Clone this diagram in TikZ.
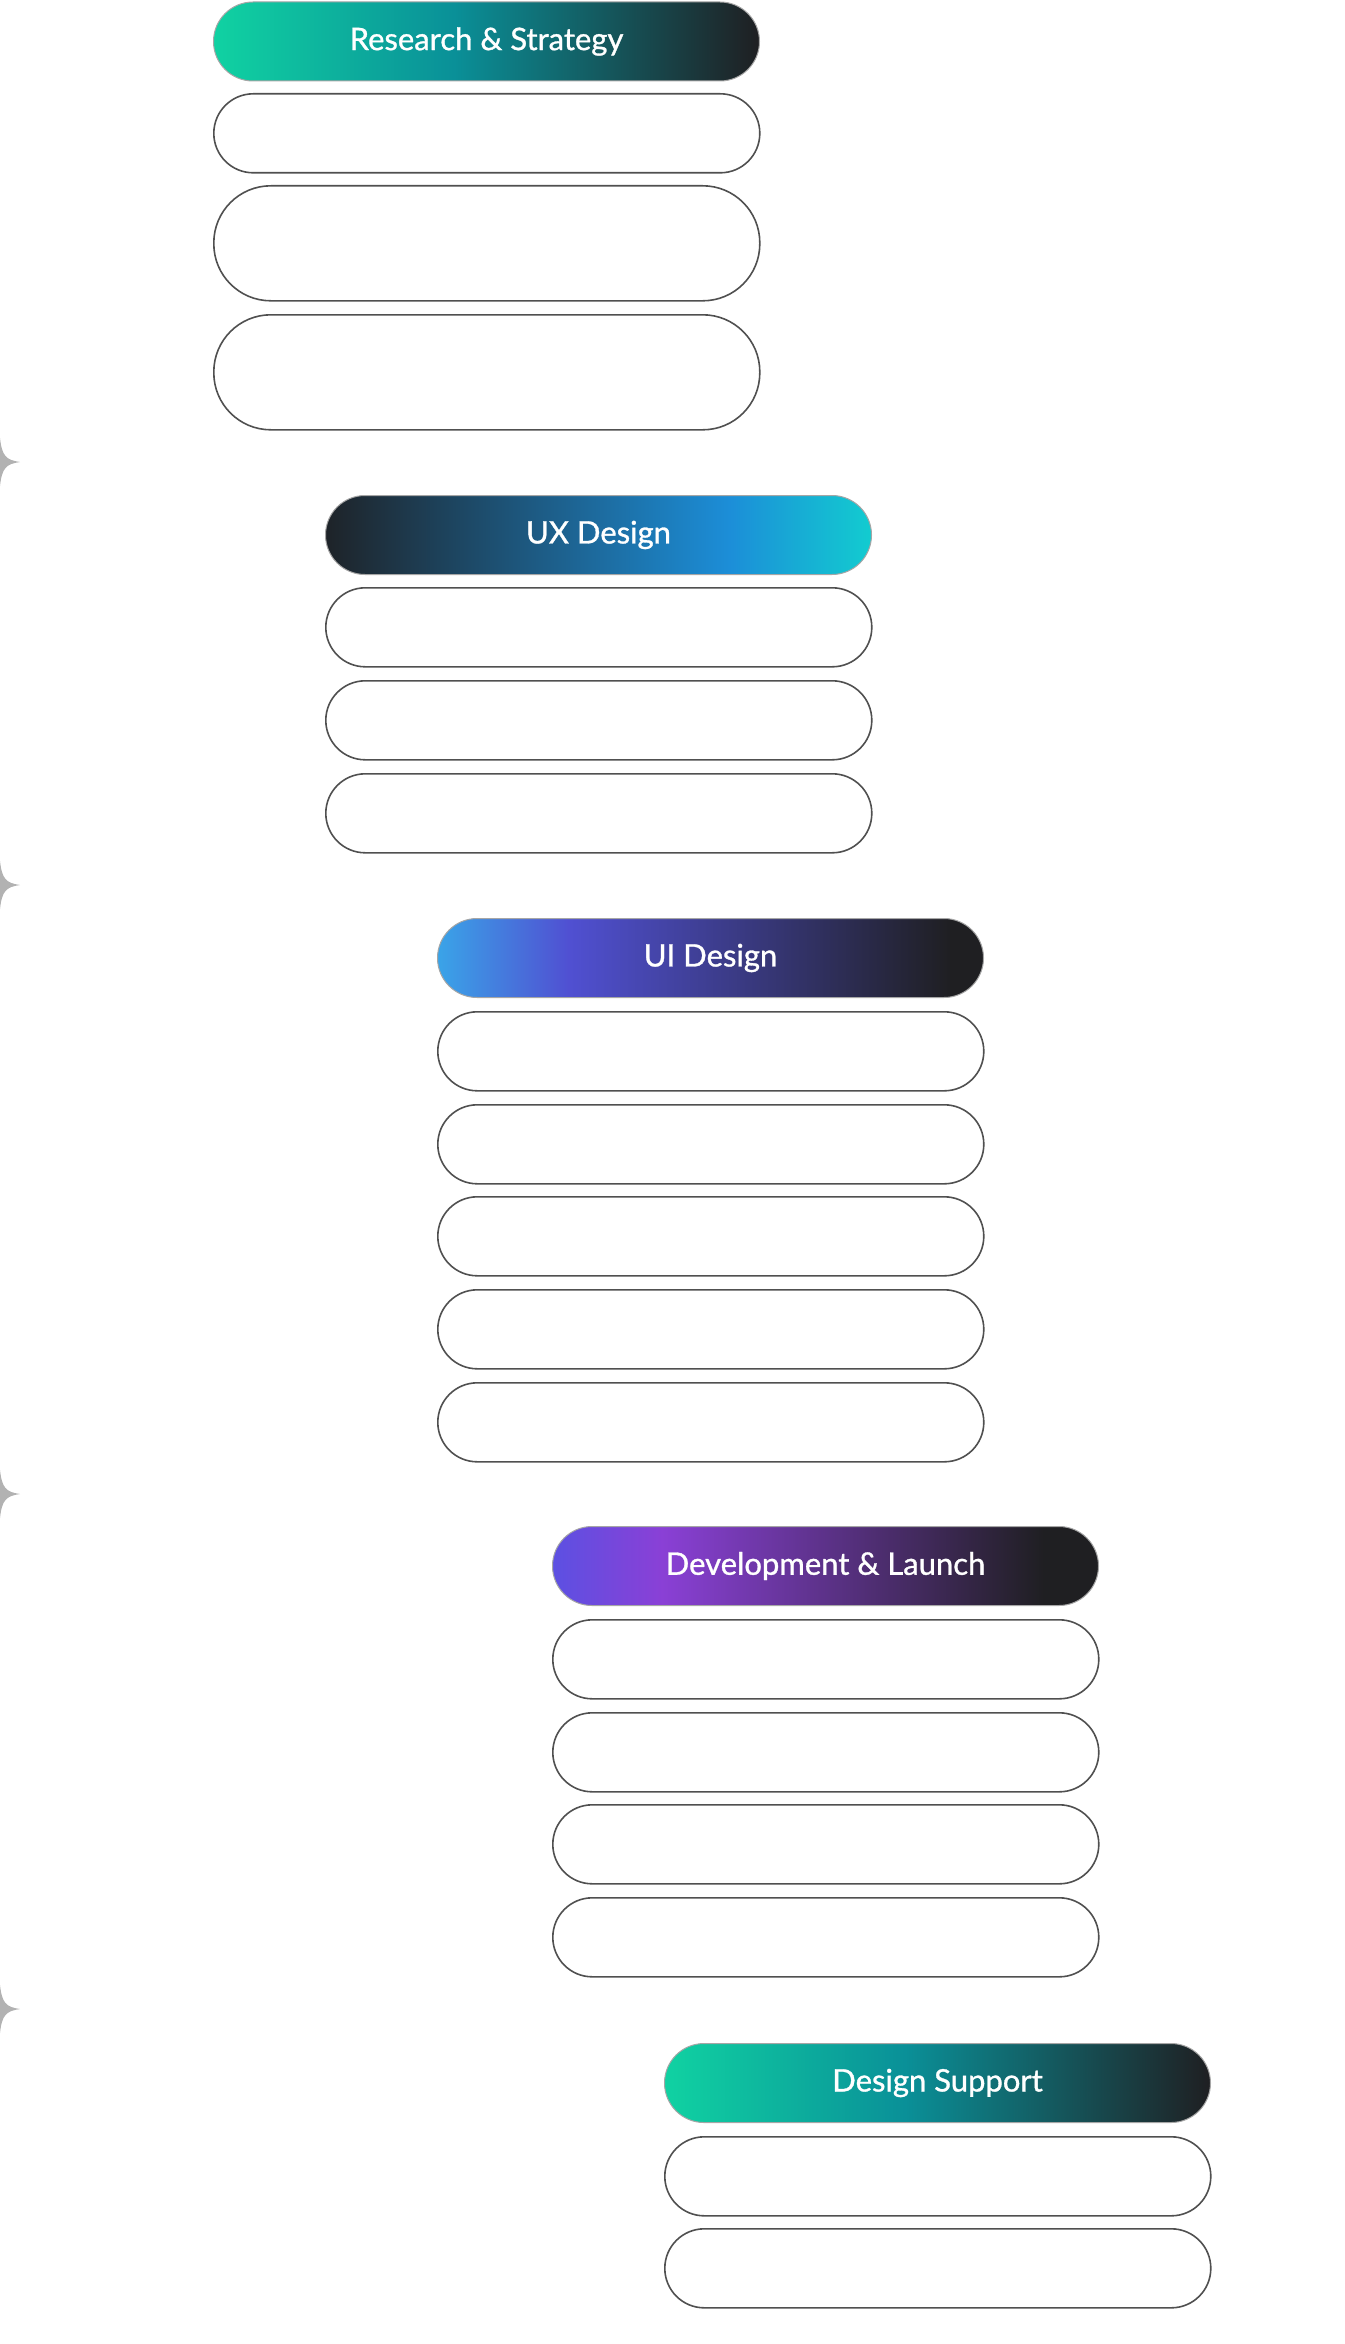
\documentclass[tikz,border=0pt]{standalone}
\usepackage{fontspec}
\setmainfont{Lato}
\newfontfamily\hfont{Lato}[FakeBold=1]
\usetikzlibrary{calc}
\definecolor{c1}{HTML}{10D2A2}
\definecolor{c2}{HTML}{0A9098}
\definecolor{c3}{HTML}{1F1F22}
\definecolor{u1}{HTML}{1E2328}
\definecolor{u2}{HTML}{1C8ED8}
\definecolor{u3}{HTML}{12CCD0}
\definecolor{i1}{HTML}{3AA4E8}
\definecolor{i2}{HTML}{5050D2}
\definecolor{d1}{HTML}{5C50E2}
\definecolor{d2}{HTML}{8A40D6}
\definecolor{bord}{HTML}{505050}
\pgfdeclarehorizontalshading{gteal}{100bp}{color(0bp)=(c1); color(25bp)=(c1); color(47bp)=(c2); color(75bp)=(c3); color(100bp)=(c3)}
\pgfdeclarehorizontalshading{gux}{100bp}{color(0bp)=(u1); color(25bp)=(u1); color(62bp)=(u2); color(75bp)=(u3); color(100bp)=(u3)}
\pgfdeclarehorizontalshading{gui}{100bp}{color(0bp)=(i1); color(25bp)=(i1); color(37bp)=(i2); color(72bp)=(c3); color(100bp)=(c3)}
\pgfdeclarehorizontalshading{gdev}{100bp}{color(0bp)=(d1); color(25bp)=(d1); color(35bp)=(d2); color(70bp)=(c3); color(100bp)=(c3)}
\begin{document}
\begin{tikzpicture}[x=1pt,y=-1pt,
  pill/.style={draw=bord,line width=1.6pt,rectangle,rounded corners=39.5pt,minimum width=546pt,minimum height=79pt,inner sep=0pt,anchor=north west,fill=white},
  tall/.style={pill,minimum height=115pt,rounded corners=57pt},
  head/.style={pill,draw=gray!70,line width=1pt,text=white,font=\hfont\fontsize{31}{36}\selectfont},
  star/.style={fill=gray!60,draw=none}]
\useasboundingbox (0,0) rectangle (1344,2344);
% Research
\node[head,shading=gteal] (h1) at (213,1.5) {Research \& Strategy};
\node[pill] (b11) at (213,93) {};
\node[tall] (b12) at (213,185) {};
\node[tall] (b13) at (213,314) {};
% UX
\node[head,shading=gux] (h2) at (325,495) {UX Design};
\node[pill] (b21) at (325,587) {};
\node[pill] (b22) at (325,680) {};
\node[pill] (b23) at (325,773) {};
% UI
\node[head,shading=gui] (h3) at (437,918) {UI Design};
\node[pill] (b31) at (437,1011) {};
\node[pill] (b32) at (437,1104) {};
\node[pill] (b33) at (437,1196) {};
\node[pill] (b34) at (437,1289) {};
\node[pill] (b35) at (437,1382) {};
% Dev
\node[head,shading=gdev] (h4) at (552,1526) {Development \& Launch};
\node[pill] (b41) at (552,1619) {};
\node[pill] (b42) at (552,1712) {};
\node[pill] (b43) at (552,1804) {};
\node[pill] (b44) at (552,1897) {};
% Design support
\node[head,shading=gteal] (h5) at (664,2043) {Design Support};
\node[pill] (b51) at (664,2136) {};
\node[pill] (b52) at (664,2228) {};
% stars
\foreach \yy/\nm in {462/s1,885/s2,1494/s3,2009/s4}{
  \coordinate (\nm) at (0,\yy);
  \fill[star] ($(\nm)+(0,-24)$) .. controls ($(\nm)+(2,-6)$) and ($(\nm)+(6,-2)$) .. ($(\nm)+(20,0)$)
    .. controls ($(\nm)+(6,2)$) and ($(\nm)+(2,6)$) .. ($(\nm)+(0,24)$)
    .. controls ($(\nm)+(-2,6)$) and ($(\nm)+(-6,2)$) .. ($(\nm)+(-20,0)$)
    .. controls ($(\nm)+(-6,-2)$) and ($(\nm)+(-2,-6)$) .. cycle;
}
\end{tikzpicture}
\end{document}
